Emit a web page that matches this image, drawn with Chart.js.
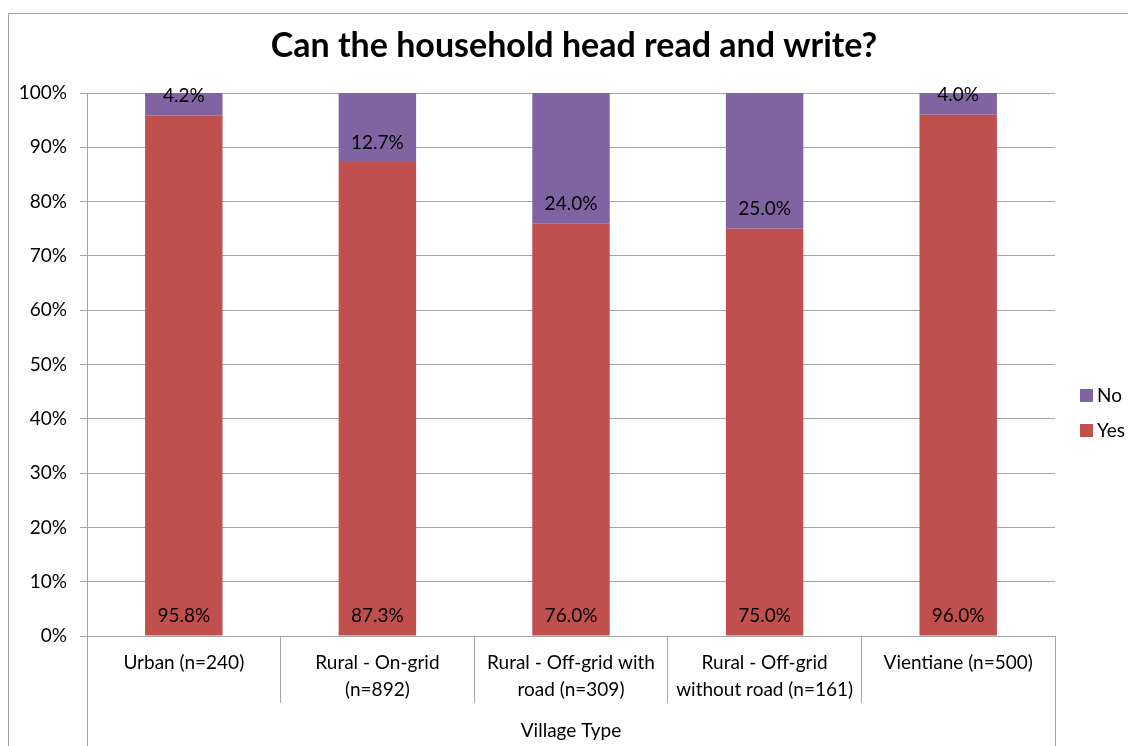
<!DOCTYPE html>
<html>
<head>
<meta charset="utf-8">
<script src="https://cdn.jsdelivr.net/npm/chart.js@4.4.1/dist/chart.umd.min.js"></script>
<style>
  html, body { margin: 0; padding: 0; background: #fff; }
  #wrap { width: 1128px; height: 746px; position: relative; }
</style>
</head>
<body>
<div id="wrap"><canvas id="c" width="1128" height="746"></canvas></div>
<script>
const categories = [
  ['Urban (n=240)'],
  ['Rural - On-grid', '(n=892)'],
  ['Rural - Off-grid with', 'road (n=309)'],
  ['Rural - Off-grid', 'without road (n=161)'],
  ['Vientiane (n=500)']
];
const yesValues = [95.8, 87.3, 76.0, 75.0, 96.0];
const noValues = [4.2, 12.7, 24.0, 25.0, 4.0];
const seriesNames = ['Yes', 'No'];
const titleText = 'Can the household head read and write?';
const axisTitle = 'Village Type';

const FONT = 'Lato, "Open Sans", sans-serif';
const GRID = '#a6a6a6';

const decor = {
  id: 'decor',
  beforeDraw(chart) {
    const ctx = chart.ctx;
    ctx.save();
    ctx.strokeStyle = '#a0a0a0';
    ctx.lineWidth = 1;
    ctx.beginPath();
    ctx.moveTo(8.5, 800);
    ctx.lineTo(8.5, 13.5);
    ctx.lineTo(1200, 13.5);
    ctx.stroke();
    ctx.restore();
  },
  afterDatasetsDraw(chart) {
    const ctx = chart.ctx;
    ctx.save();
    ctx.font = '19px ' + FONT;
    ctx.fillStyle = '#000';
    ctx.textAlign = 'center';
    ctx.textBaseline = 'middle';
    chart.data.datasets.forEach((ds, di) => {
      const meta = chart.getDatasetMeta(di);
      meta.data.forEach((bar, i) => {
        const base = Math.max(bar.base, bar.y);
        ctx.fillText(ds.data[i].toFixed(1) + '%', bar.x, base - 19.5);
      });
    });
    ctx.restore();
  },
  afterDraw(chart) {
    const ctx = chart.ctx;
    const xs = chart.scales.x;
    ctx.save();
    // title
    ctx.font = 'bold 34px ' + FONT;
    ctx.fillStyle = '#000';
    ctx.textAlign = 'center';
    ctx.textBaseline = 'middle';
    ctx.fillText(titleText, 574, 46);
    // group box edges
    ctx.strokeStyle = GRID;
    ctx.lineWidth = 1;
    const n = chart.data.labels.length;
    const l = Math.round(xs.getPixelForValue(-0.5)) + 0.5;
    const r = Math.round(xs.getPixelForValue(n - 0.5)) + 0.5;
    ctx.beginPath();
    ctx.moveTo(l, xs.top);
    ctx.lineTo(l, chart.height);
    ctx.moveTo(r, xs.top);
    ctx.lineTo(r, chart.height);
    ctx.stroke();
    // legend
    const dsets = chart.data.datasets.slice().reverse();
    ctx.font = '19px ' + FONT;
    ctx.textBaseline = 'middle';
    ctx.textAlign = 'left';
    dsets.forEach((ds, k) => {
      const cy = 395.5 + k * 35;
      ctx.fillStyle = ds.backgroundColor;
      ctx.fillRect(1080, cy - 6.5, 13, 13);
      ctx.fillStyle = '#000';
      ctx.fillText(ds.label, 1097, cy);
    });
    ctx.restore();
  }
};

new Chart(document.getElementById('c'), {
  type: 'bar',
  data: {
    labels: categories,
    datasets: [
      { label: seriesNames[0], data: yesValues, backgroundColor: '#C0504D', barPercentage: 0.4, categoryPercentage: 1 },
      { label: seriesNames[1], data: noValues, backgroundColor: '#8064A2', barPercentage: 0.4, categoryPercentage: 1 }
    ]
  },
  options: {
    responsive: false,
    animation: false,
    layout: { padding: { left: 8, right: 73, top: 93, bottom: 0 } },
    plugins: {
      legend: { display: false },
      tooltip: { enabled: false },
      title: { display: false }
    },
    scales: {
      x: {
        stacked: true,
        offset: true,
        grid: {
          display: true,
          offset: true,
          drawOnChartArea: false,
          drawTicks: true,
          tickLength: 67,
          color: GRID
        },
        border: { display: true, color: GRID },
        ticks: {
          color: '#000',
          font: { family: FONT, size: 19, lineHeight: 1.42 },
          padding: -53.5,
          maxRotation: 0,
          autoSkip: false
        },
        title: {
          display: true,
          text: axisTitle,
          color: '#000',
          font: { family: FONT, size: 19, lineHeight: 1.2 },
          padding: { top: 4, bottom: 4 }
        },
        afterFit(scale) { scale.height = 110; }
      },
      y: {
        stacked: true,
        min: 0,
        max: 100,
        grid: { color: GRID, tickLength: 7 },
        border: { display: true, color: GRID },
        ticks: {
          stepSize: 10,
          color: '#000',
          padding: 13,
          font: { family: FONT, size: 19 },
          callback: v => v + '%'
        },
        afterFit(scale) { scale.width = 79; }
      }
    }
  },
  plugins: [decor]
});
</script>
</body>
</html>
